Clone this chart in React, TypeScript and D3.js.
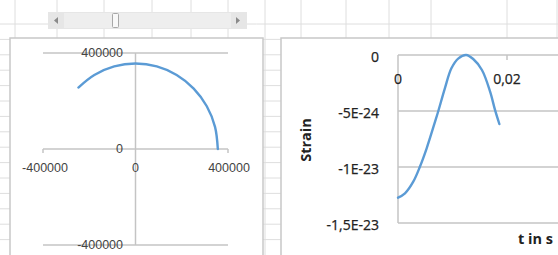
import React from "react";
import * as d3 from "d3";

// Left chart: orbit arc (x, y)
const orbitX = [356000, 343900, 308300, 251700, 178000, 92100, 0, -92100, -178000, -247000];
const orbitY = [0, 92100, 178000, 251700, 308300, 343900, 356000, 343900, 308300, 256000];
const orbitTicks = [-400000, 0, 400000];

// Right chart: strain over time
const timeS = [0, 0.00128, 0.0028, 0.004, 0.00526, 0.0068, 0.0074, 0.0086, 0.0098, 0.0111, 0.0125, 0.0138, 0.0154, 0.0169, 0.0178, 0.0186];
const strain = [-1.274e-23, -1.235e-23, -1.131e-23, -1.0e-23, -8.33e-24, -5.95e-24, -5.0e-24, -2.98e-24, -1.19e-24, -3.0e-25, 0, -3.6e-25, -1.34e-24, -3.27e-24, -4.9e-24, -6.16e-24];
const strainTicks = [0, -5e-24, -1e-23, -1.5e-23];
const strainTickLabels = ["0", "-5E-24", "-1E-23", "-1,5E-23"];
const timeTicks = [0, 0.02];
const timeTickLabels = ["0", "0,02"];

const colLines = [15, 57, 104, 152, 191, 228, 265, 301, 346, 389, 431, 507, 557];

export default function App() {
  const W = 558, H = 255;
  const rows: number[] = [];
  for (let y = 24; y < H; y += 15.4) rows.push(y);

  const lx = d3.scaleLinear().domain([-400000, 400000]).range([43, 228]);
  const ly = d3.scaleLinear().domain([-400000, 400000]).range([245, 53]);
  const orbitLine = d3
    .line<number>()
    .x((_, i) => lx(orbitX[i]))
    .y((_, i) => ly(orbitY[i]))
    .curve(d3.curveCatmullRom)(orbitX.map((_, i) => i));

  const rx = d3.scaleLinear().domain([0, 0.02]).range([398, 507]);
  const ry = d3.scaleLinear().domain([-1.5e-23, 0]).range([223, 55]);
  const strainLine = d3
    .line<number>()
    .x((_, i) => rx(timeS[i]))
    .y((_, i) => ry(strain[i]))
    .curve(d3.curveCatmullRom)(timeS.map((_, i) => i));

  const grid = "#dedede";
  const axis = "#c4c4c4";
  const blue = "#5b9bd5";
  const lfont = "'Liberation Sans', Arial, sans-serif";
  const rfont = "'Open Sans', sans-serif";

  return (
    <svg width={W} height={H} style={{ position: "absolute", left: 0, top: 0, background: "#fff" }}>
      {/* spreadsheet grid */}
      {colLines.map((x) => (
        <line key={"c" + x} x1={x} x2={x} y1={0} y2={H} stroke={grid} strokeWidth={1} />
      ))}
      {rows.map((y) => (
        <line key={"r" + y} x1={0} x2={W} y1={y} y2={y} stroke={grid} strokeWidth={1} />
      ))}
      {/* scrollbar */}
      <rect x={48} y={12} width={199} height={17} fill="#e6e6e6" />
      <rect x={64} y={13} width={167} height={15} fill="#eeeeee" />
      <path d="M58,17 L54,20.5 L58,24 Z" fill="#8a8a8a" />
      <path d="M236,17 L240,20.5 L236,24 Z" fill="#8a8a8a" />
      <rect x={112.5} y={13.5} width={6} height={14} fill="#f8f8f8" stroke="#a8a8a8" strokeWidth={1} rx={1} />

      {/* left chart */}
      <rect x={10} y={38} width={253} height={230} fill="#fff" stroke="#c8c8c8" strokeWidth={1.5} />
      {[400000, -400000].map((v) => (
        <line key={"lg" + v} x1={43} x2={228} y1={ly(v)} y2={ly(v)} stroke={axis} strokeWidth={1.5} />
      ))}
      <line x1={43} x2={228} y1={ly(0)} y2={ly(0)} stroke={axis} strokeWidth={1.5} />
      <line x1={43} x2={43} y1={ly(0)} y2={ly(0) + 4} stroke={axis} strokeWidth={1.5} />
      <line x1={228} x2={228} y1={ly(0)} y2={ly(0) + 4} stroke={axis} strokeWidth={1.5} />
      <line x1={lx(0)} x2={lx(0)} y1={ly(400000)} y2={ly(-400000)} stroke={axis} strokeWidth={1.5} />
      {orbitTicks.map((v) => (
        <text key={"ly" + v} x={123} y={ly(v)} dy="0.35em" textAnchor="end" fontFamily={lfont} fontSize={12.5} fill="#444">
          {String(v)}
        </text>
      ))}
      {orbitTicks.map((v) => (
        <text key={"lx" + v} x={lx(v) + (v < 0 ? 2 : v > 0 ? 1 : 0)} y={168} dy="0.35em" textAnchor="middle" fontFamily={lfont} fontSize={12.5} fill="#444">
          {String(v)}
        </text>
      ))}
      <path d={orbitLine || ""} fill="none" stroke={blue} strokeWidth={2.4} strokeLinecap="round" />

      {/* right chart */}
      <rect x={281} y={38} width={290} height={230} fill="#fff" stroke="#c8c8c8" strokeWidth={1.5} />
      {strainTicks.map((v) => (
        <line key={"rg" + v} x1={rx(0)} x2={W} y1={ry(v)} y2={ry(v)} stroke={axis} strokeWidth={1.5} />
      ))}
      <line x1={rx(0)} x2={rx(0)} y1={ry(0)} y2={ry(-1.5e-23)} stroke={axis} strokeWidth={1.5} />
      <line x1={rx(0.02)} x2={rx(0.02)} y1={ry(0)} y2={ry(0) + 5} stroke={axis} strokeWidth={1.5} />
      {strainTicks.map((v, i) => (
        <text key={"ry" + v} x={379} y={ry(v) + 2} dy="0.35em" textAnchor="end" fontFamily={rfont} fontSize={14} fill="#222" stroke="#222" strokeWidth={0.25}>
          {strainTickLabels[i]}
        </text>
      ))}
      {timeTicks.map((v, i) => (
        <text key={"rx" + v} x={rx(v)} y={79} dy="0.35em" textAnchor="middle" fontFamily={rfont} fontSize={14} fill="#222" stroke="#222" strokeWidth={0.25}>
          {timeTickLabels[i]}
        </text>
      ))}
      <text transform="translate(306,140) rotate(-90)" dy="0.35em" textAnchor="middle" fontFamily={rfont} fontSize={14.5} fontWeight="bold" fill="#222">
        Strain
      </text>
      <text x={553} y={239} dy="0.35em" textAnchor="end" fontFamily={rfont} fontSize={14.5} fontWeight="bold" fill="#222">
        t in s
      </text>
      <path d={strainLine || ""} fill="none" stroke={blue} strokeWidth={2.4} strokeLinecap="round" />
    </svg>
  );
}
